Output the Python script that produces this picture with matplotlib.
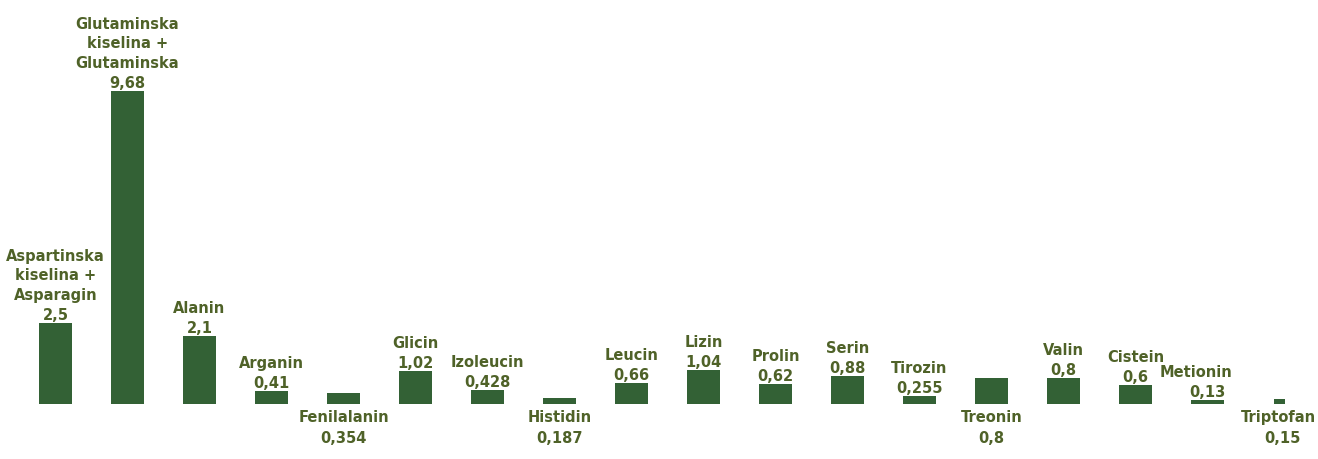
import matplotlib.pyplot as plt

# amino acid content (g / 100 g protein)
names = [
    'Aspartinska\nkiselina +\nAsparagin',
    'Glutaminska\nkiselina +\nGlutaminska',
    'Alanin', 'Arganin', 'Fenilalanin', 'Glicin', 'Izoleucin',
    'Histidin', 'Leucin', 'Lizin', 'Prolin', 'Serin', 'Tirozin',
    'Treonin', 'Valin', 'Cistein', 'Metionin', 'Triptofan',
]
values = [2.5, 9.68, 2.1, 0.41, 0.354, 1.02, 0.428, 0.187, 0.66,
          1.04, 0.62, 0.88, 0.255, 0.8, 0.8, 0.6, 0.13, 0.15]
value_labels = ['2,5', '9,68', '2,1', '0,41', '0,354', '1,02', '0,428',
                '0,187', '0,66', '1,04', '0,62', '0,88', '0,255', '0,8',
                '0,8', '0,6', '0,13', '0,15']
labels_below = ['Fenilalanin', 'Histidin', 'Treonin', 'Triptofan']

bar_color = '#336135'
text_color = '#4F6228'
fs = 10.5

fig = plt.figure(figsize=(13.18, 4.59), dpi=100)
ax = fig.add_axes([0, 0, 1, 1])

x = list(range(len(values)))
widths = [0.45] * len(values)
widths[-1] = 0.14  # the last bar is drawn thin in the original
ax.bar(x, values, width=widths, color=bar_color)

# small horizontal nudges (points) for crowded labels on the right
name_dx = {'Metionin': -8, 'Triptofan': -1}
value_dx = {'Triptofan': 2}

for i, (n, v, vl) in enumerate(zip(names, values, value_labels)):
    dxn = name_dx.get(n, 0)
    dxv = value_dx.get(n, 0)
    kw = dict(textcoords='offset points', ha='center', color=text_color,
              fontsize=fs, fontweight='bold', family='DejaVu Sans')
    if n in labels_below:
        ax.annotate(n, (i, 0), xytext=(dxn, -9.5), va='center', **kw)
        ax.annotate(vl, (i, 0), xytext=(dxv, -24.5), va='center', **kw)
    else:
        ax.annotate(vl, (i, v), xytext=(dxv, 2.2), va='baseline', **kw)
        ax.annotate(n, (i, v), xytext=(dxn, 14.5), va='bottom',
                    linespacing=1.4, **kw)

ax.set_xlim(-0.771, 17.535)
ax.set_ylim(-1.70, 12.51)
ax.axis('off')

fig.savefig('out.png', dpi=100)
